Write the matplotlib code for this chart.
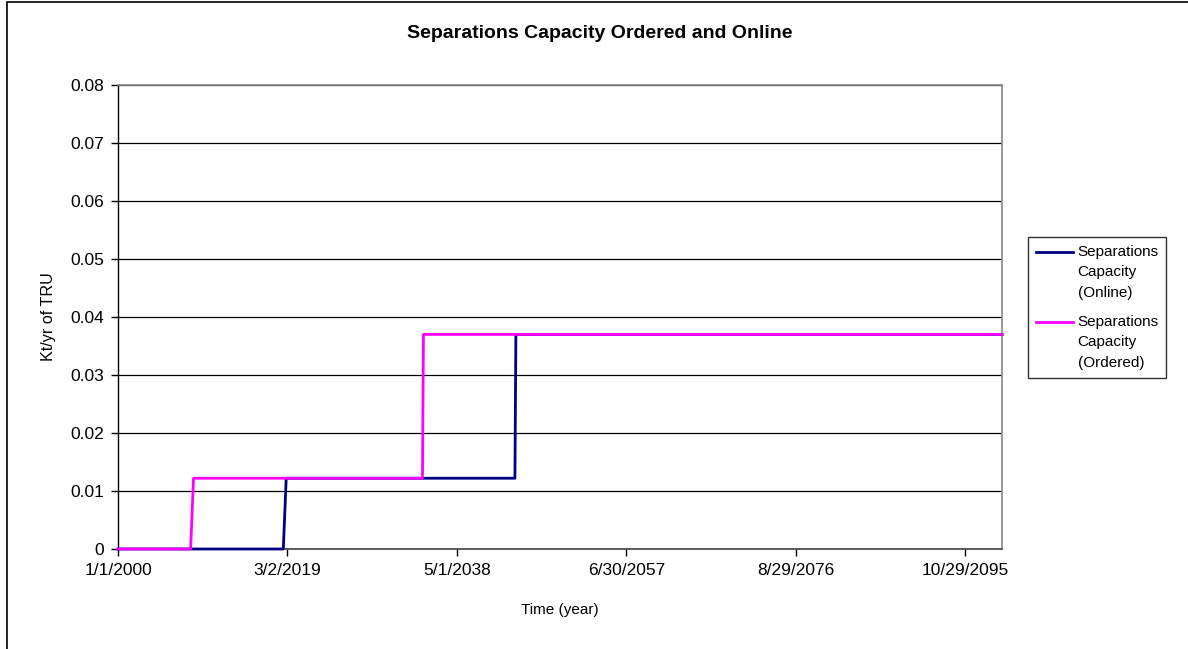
import matplotlib
matplotlib.use("Agg")
import numpy as np
import matplotlib.pyplot as plt
from matplotlib.patches import Rectangle
from matplotlib.lines import Line2D
from matplotlib.legend_handler import HandlerLine2D

plt.rcParams['font.family'] = ['Liberation Sans', 'DejaVu Sans']

# ---- data (time in days since 1/1/2000) ----
online_days = [0, 6830, 6950, 16400, 16440, 36525]
online_vals = [0.0, 0.0, 0.0122, 0.0122, 0.037, 0.037]
ordered_days = [0, 3000, 3120, 12580, 12620, 36525]
ordered_vals = [0.0, 0.0, 0.0122, 0.0122, 0.037, 0.037]

tick_days = [0, 7000, 14000, 21000, 28000, 35000]
tick_labels = ['1/1/2000', '3/2/2019', '5/1/2038', '6/30/2057', '8/29/2076', '10/29/2095']
y_ticks = [0, 0.01, 0.02, 0.03, 0.04, 0.05, 0.06, 0.07, 0.08]
y_labels = ['0', '0.01', '0.02', '0.03', '0.04', '0.05', '0.06', '0.07', '0.08']


class UpHandler(HandlerLine2D):
    """Place the legend line beside the first text line."""
    def __init__(self, shift, **kw):
        super().__init__(**kw)
        self.shift = shift

    def create_artists(self, legend, orig_handle, xdescent, ydescent,
                       width, height, fontsize, trans):
        arts = super().create_artists(legend, orig_handle, xdescent, ydescent,
                                      width, height, fontsize, trans)
        for a in arts:
            if isinstance(a, Line2D):
                a.set_ydata(np.asarray(a.get_ydata(), dtype=float) + self.shift)
        return arts


W, H = 1188, 649
fig = plt.figure(figsize=(W / 100, H / 100), dpi=100)
left, right, top, bottom = 118, 1002, 85, 549
ax = fig.add_axes([left / W, 1 - bottom / H, (right - left) / W, (bottom - top) / H])

ax.set_xlim(0, 36525)
ax.set_ylim(0, 0.08)
ax.set_yticks(y_ticks)
ax.set_yticklabels(y_labels, fontsize=12.5)
ax.set_xticks(tick_days)
ax.set_xticklabels(tick_labels, fontsize=12.5)
ax.tick_params(axis='both', direction='out', length=5, width=1, color='black')
ax.tick_params(axis='y', pad=5)
ax.tick_params(axis='x', pad=5)

ax.grid(axis='y', color='black', linewidth=0.9)
ax.set_axisbelow(True)
for s in ['top', 'right']:
    ax.spines[s].set_color('#888888')
    ax.spines[s].set_linewidth(1.2)
ax.spines['left'].set_color('black')
ax.spines['bottom'].set_color('#444444')
ax.spines['left'].set_linewidth(1.0)
ax.spines['bottom'].set_linewidth(1.2)

l1, = ax.plot(online_days, online_vals, color='#000080', linewidth=2.0,
              label='Separations\nCapacity\n(Online)', clip_on=False, zorder=3)
l2, = ax.plot(ordered_days, ordered_vals, color='#FF00FF', linewidth=2.0,
              label='Separations\nCapacity\n(Ordered)', clip_on=False, zorder=4)

ax.set_xlabel('Time (year)', fontsize=11)
ax.set_ylabel('Kt/yr of TRU', fontsize=11.6)
ax.xaxis.label.set_va('center')
ax.yaxis.label.set_va('center')
ax.xaxis.set_label_coords(0.5, (549 - 610) / 464)
ax.yaxis.set_label_coords((48 - 118) / 884, 0.5)

fig.text(600 / W, 1 - 33 / H, 'Separations Capacity Ordered and Online',
         ha='center', va='center', fontsize=14, fontweight='bold')

shift_pt = 14.9
leg = fig.legend(handles=[l1, l2], loc='upper left',
                 bbox_to_anchor=(1028 / W, 1 - 237 / H),
                 fontsize=11, frameon=True, fancybox=False, shadow=False,
                 handlelength=2.45, handletextpad=0.3, borderpad=0.5,
                 labelspacing=1.0, borderaxespad=0,
                 handler_map={Line2D: UpHandler(shift_pt)})
for t in leg.get_texts():
    t.set_linespacing(1.59)
leg.get_frame().set_edgecolor('black')
leg.get_frame().set_linewidth(1.0)

fig.patches.append(Rectangle((7 / W, -0.05), 1.1, 1 - 2 / H + 0.05,
                             transform=fig.transFigure, fill=False,
                             edgecolor='black', linewidth=1.2))

fig.savefig('out.png', dpi=100)
